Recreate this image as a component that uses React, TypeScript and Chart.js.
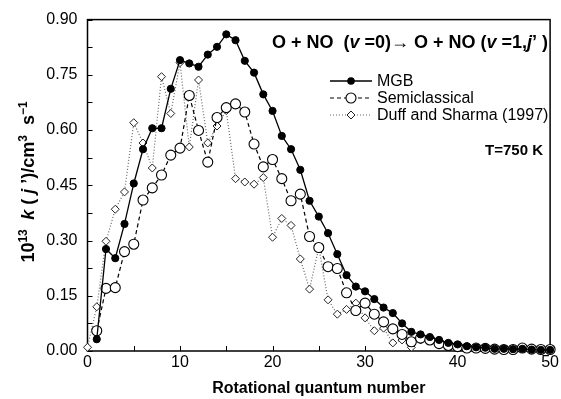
import React, { useEffect, useRef } from "react";
import { Chart, registerables } from "chart.js";

Chart.register(...registerables);

const FONT = "'Liberation Sans', Arial, Helvetica, sans-serif";

// Rotational quantum number j' of the first value of each series
const mgbStartJ = 1;
const semiStartJ = 1;
const duffStartJ = 0;

// 10^13 k(j') values
const mgbValues = [
  0.032, 0.277, 0.252, 0.345, 0.455, 0.548, 0.605, 0.605, 0.712, 0.79,
  0.781, 0.772, 0.805, 0.826, 0.86, 0.844, 0.788, 0.756, 0.697, 0.652,
  0.584, 0.548, 0.492, 0.408, 0.365, 0.32, 0.263, 0.206, 0.175, 0.162,
  0.141, 0.118, 0.103, 0.075, 0.052, 0.045, 0.038, 0.03, 0.022, 0.018,
  0.013, 0.01, 0.009, 0.006, 0.006, 0.005, 0.006, 0.004, 0.003, 0.003,
];
const semiValues = [
  0.055, 0.17, 0.172, 0.27, 0.29, 0.41, 0.443, 0.478, 0.532, 0.551,
  0.694, 0.599, 0.513, 0.634, 0.661, 0.671, 0.649, 0.562, 0.5, 0.52,
  0.468, 0.408, 0.426, 0.311, 0.281, 0.229, 0.224, 0.158, 0.11, 0.13,
  0.1, 0.079, 0.06, 0.045, 0.025, 0.035, 0.03, 0.02, 0.015, 0.012,
  0.008, 0.008, 0.007, 0.005, 0.004, 0.004, 0.008, 0.005, 0.004, 0.004,
];
const duffValues = [
  0.01, 0.12, 0.298, 0.385, 0.432, 0.62, 0.565, 0.497, 0.745, 0.645,
  0.783, 0.554, 0.736, 0.565, 0.611, 0.653, 0.468, 0.459, 0.453, 0.471,
  0.309, 0.36, 0.341, 0.25, 0.168, 0.281, 0.139, 0.1, 0.113, 0.13,
  0.09, 0.055, 0.062, 0.022, 0.03, 0.01, 0.03, 0.034, 0.02, 0.011,
  0.012, 0.008, 0.01, 0.008, 0.005, 0.005, 0.005, 0.008, 0.005, 0.003,
];

const yTickValues = [0, 0.15, 0.3, 0.45, 0.6, 0.75, 0.9];
const xTickValues = [0, 10, 20, 30, 40, 50];
const xMinorTicks = [0, 5, 10, 15, 20, 25, 30, 35, 40, 45, 50];
const yMinorTicks = [0, 0.075, 0.15, 0.225, 0.3, 0.375, 0.45, 0.525, 0.6, 0.675, 0.75, 0.825, 0.9];

const legendLabels = ["MGB", "Semiclassical", "Duff and Sharma (1997)"];
const xAxisTitle = "Rotational quantum number";
const temperatureLabel = "T=750 K";

type Piece = { t: string; f: string; dy?: number };

const B = (s: number) => `bold ${s}px ${FONT}`;
const BI = (s: number) => `italic bold ${s}px ${FONT}`;
const N = (s: number) => `${s}px ${FONT}`;

const titlePieces: Piece[] = [
  { t: "O + NO  (", f: B(18) },
  { t: "v", f: BI(18) },
  { t: " =0)", f: B(18) },
  { t: "\u2192", f: N(18) },
  { t: " O + NO (", f: B(18) },
  { t: "v", f: BI(18) },
  { t: " =1,", f: B(18) },
  { t: "j", f: BI(18) },
  { t: "\u2019 )", f: B(18) },
];

const yTitlePieces: Piece[] = [
  { t: "10", f: B(18) },
  { t: "13", f: B(12), dy: -7 },
  { t: "  ", f: B(17) },
  { t: "k", f: BI(18) },
  { t: " ( ", f: B(18) },
  { t: "j", f: BI(18) },
  { t: " \u2019)/cm", f: B(18) },
  { t: "3", f: B(12), dy: -7 },
  { t: "  s", f: B(18) },
  { t: "\u22121", f: B(12), dy: -7 },
];

const toXY = (start: number, vals: number[]) => vals.map((v, i) => ({ x: start + i, y: v }));

function measure(ctx: CanvasRenderingContext2D, pieces: Piece[]) {
  let w = 0;
  for (const p of pieces) {
    ctx.font = p.f;
    w += ctx.measureText(p.t).width;
  }
  return w;
}

function drawPieces(ctx: CanvasRenderingContext2D, pieces: Piece[], x: number, y: number) {
  let cx = x;
  ctx.textBaseline = "alphabetic";
  ctx.textAlign = "left";
  for (const p of pieces) {
    ctx.font = p.f;
    ctx.fillText(p.t, cx, y + (p.dy || 0));
    cx += ctx.measureText(p.t).width;
  }
}

const decorPlugin = {
  id: "decor",
  beforeDatasetsDraw(chart: any) {
    const { ctx, chartArea: a, scales } = chart;
    ctx.save();
    ctx.strokeStyle = "#000";
    ctx.lineWidth = 1;
    ctx.beginPath();
    for (const v of xMinorTicks) {
      const x = Math.round(scales.x.getPixelForValue(v)) + 0.5;
      ctx.moveTo(x, a.bottom);
      ctx.lineTo(x, a.bottom - 5);
    }
    for (const v of yMinorTicks) {
      const y = Math.round(scales.y.getPixelForValue(v)) + 0.5;
      ctx.moveTo(a.left, y);
      ctx.lineTo(a.left + 5, y);
    }
    ctx.stroke();
    ctx.lineWidth = 1.5;
    ctx.strokeRect(a.left, a.top, a.right - a.left, a.bottom - a.top);
    ctx.restore();
  },
  afterDraw(chart: any) {
    const { ctx, chartArea: a } = chart;
    ctx.save();
    ctx.fillStyle = "#000";

    // Title inside plot
    const tw = measure(ctx, titlePieces);
    drawPieces(ctx, titlePieces, 548 - tw, 48);

    // Legend
    const rows = [81, 98, 115];
    const x0 = 330, x1 = 372, xm = 351, xt = 377;
    rows.forEach((y, i) => {
      ctx.save();
      ctx.beginPath();
      if (i === 0) {
        ctx.strokeStyle = "#000"; ctx.lineWidth = 1.3; ctx.setLineDash([]);
      } else if (i === 1) {
        ctx.strokeStyle = "#000"; ctx.lineWidth = 1.2; ctx.setLineDash([4, 3]);
      } else {
        ctx.strokeStyle = "#666"; ctx.lineWidth = 1.2; ctx.setLineDash([1, 2]);
      }
      ctx.moveTo(x0, y);
      ctx.lineTo(x1, y);
      ctx.stroke();
      ctx.setLineDash([]);
      ctx.beginPath();
      if (i === 0) {
        ctx.arc(xm, y, 3.8, 0, Math.PI * 2);
        ctx.fillStyle = "#000"; ctx.fill();
      } else if (i === 1) {
        ctx.arc(xm, y, 5, 0, Math.PI * 2);
        ctx.fillStyle = "#fff"; ctx.fill();
        ctx.strokeStyle = "#000"; ctx.lineWidth = 1.1; ctx.stroke();
      } else {
        const r = 4;
        ctx.moveTo(xm, y - r); ctx.lineTo(xm + r, y); ctx.lineTo(xm, y + r); ctx.lineTo(xm - r, y); ctx.closePath();
        ctx.fillStyle = "#fff"; ctx.fill();
        ctx.strokeStyle = "#222"; ctx.lineWidth = 1; ctx.stroke();
      }
      ctx.restore();
      ctx.fillStyle = "#000";
      ctx.font = N(16);
      ctx.textAlign = "left";
      ctx.textBaseline = "middle";
      ctx.fillText(legendLabels[i], xt, y + 1);
    });

    // Temperature
    ctx.font = B(15);
    ctx.textAlign = "right";
    ctx.textBaseline = "middle";
    ctx.fillText(temperatureLabel, 543, 151);

    // X axis title
    ctx.font = B(16);
    ctx.textAlign = "center";
    ctx.textBaseline = "middle";
    ctx.fillText(xAxisTitle, (a.left + a.right) / 2, 389);

    // Y axis title
    ctx.save();
    ctx.translate(28, 182);
    ctx.rotate(-Math.PI / 2);
    const yw = measure(ctx, yTitlePieces);
    drawPieces(ctx, yTitlePieces, -yw / 2, 6);
    ctx.restore();

    ctx.restore();
  },
};

export default function App() {
  const ref = useRef<HTMLCanvasElement | null>(null);
  useEffect(() => {
    if (!ref.current) return;
    const chart = new Chart(ref.current, {
      type: "line",
      data: {
        datasets: [
          {
            label: legendLabels[0],
            data: toXY(mgbStartJ, mgbValues),
            borderColor: "#000",
            borderWidth: 1.3,
            pointStyle: "circle",
            pointRadius: 3.6,
            pointBackgroundColor: "#000",
            pointBorderColor: "#000",
            pointBorderWidth: 1,
            tension: 0,
            fill: false,
            clip: false,
          } as any,
          {
            label: legendLabels[1],
            data: toXY(semiStartJ, semiValues),
            borderColor: "#000",
            borderWidth: 1.2,
            borderDash: [4, 3],
            pointStyle: "circle",
            pointRadius: 5,
            pointBackgroundColor: "#fff",
            pointBorderColor: "#000",
            pointBorderWidth: 1.1,
            tension: 0,
            fill: false,
            clip: false,
          } as any,
          {
            label: legendLabels[2],
            data: toXY(duffStartJ, duffValues),
            borderColor: "#666",
            borderWidth: 1.2,
            borderDash: [1, 2],
            pointStyle: "rectRot",
            pointRadius: 4,
            pointBackgroundColor: "#fff",
            pointBorderColor: "#222",
            pointBorderWidth: 1,
            tension: 0,
            fill: false,
            clip: false,
          } as any,
        ],
      },
      options: {
        responsive: false,
        animation: false,
        devicePixelRatio: 1,
        layout: { padding: { top: 19, right: 9.5, left: 0, bottom: 0 } },
        plugins: { legend: { display: false }, tooltip: { enabled: false }, title: { display: false } },
        scales: {
          x: {
            type: "linear",
            min: 0,
            max: 50,
            afterFit: (s: any) => { s.height = 48; },
            afterBuildTicks: (s: any) => { s.ticks = xTickValues.map((v) => ({ value: v })); },
            grid: { display: false, drawTicks: false },
            border: { display: false },
            ticks: {
              padding: 2,
              color: "#000",
              maxRotation: 0,
              font: { family: FONT, size: 16 },
              callback: (v: any) => String(v),
            },
          },
          y: {
            type: "linear",
            min: 0,
            max: 0.9,
            afterFit: (s: any) => { s.width = 87.5; },
            afterBuildTicks: (s: any) => { s.ticks = yTickValues.map((v) => ({ value: v })); },
            grid: { display: false, drawTicks: false },
            border: { display: false },
            ticks: {
              padding: 10,
              color: "#000",
              font: { family: FONT, size: 16 },
              callback: (v: any) => Number(v).toFixed(2),
            },
          },
        },
      },
      plugins: [decorPlugin],
    });
    return () => chart.destroy();
  }, []);

  return (
    <div style={{ position: "absolute", left: 0, top: 0, width: 561, height: 399, background: "#fff" }}>
      <canvas ref={ref} width={561} height={399} style={{ display: "block" }} />
    </div>
  );
}
